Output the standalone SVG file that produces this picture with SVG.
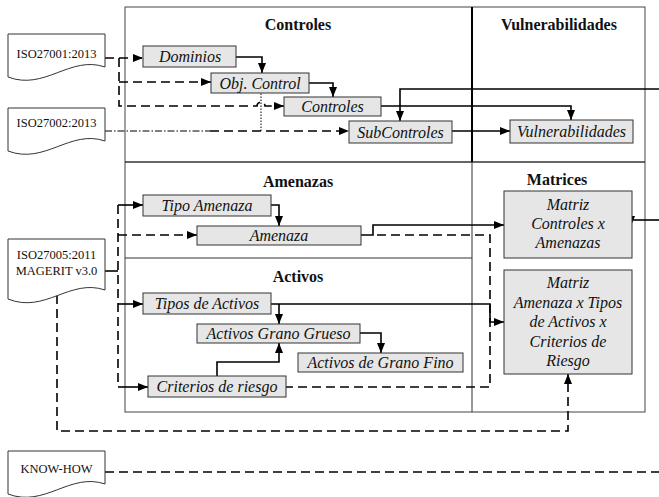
<svg xmlns="http://www.w3.org/2000/svg" width="659" height="497" viewBox="0 0 659 497" font-family="'Liberation Serif', 'DejaVu Serif', 'Times New Roman', serif">
<defs>
<style>
.box{fill:#e6e6e6;stroke:#333;stroke-width:1}
.doc{fill:#fff;stroke:#333;stroke-width:1}
.fr{fill:none;stroke:#444;stroke-width:1}
text{font-family:'Liberation Serif','DejaVu Serif',serif}
.t{fill:#111;text-anchor:middle}
.lbl{font-style:italic;font-size:16px}
.ttl{font-weight:bold;font-size:16px}
.dtx{font-size:12.5px}
.c{fill:none;stroke:#000;stroke-width:1.6}
.d{stroke-dasharray:9 5}
.dd{stroke-width:1.2;stroke-dasharray:7 2 1.5 2}
.dot{stroke-width:1;stroke-dasharray:1.5 1.5}
</style>
<marker id="ah" markerUnits="userSpaceOnUse" markerWidth="10" markerHeight="8" refX="10" refY="4" orient="auto">
<path d="M0,0 L10,4 L0,8 Z" fill="#000"/>
</marker>
</defs>
<rect width="659" height="497" fill="#fff"/>

<g id="frame">
<rect class="fr" x="125" y="7" width="520" height="405"/>
<line x1="125" y1="162" x2="645" y2="162" stroke="#333" stroke-width="1.5"/>
<line x1="472" y1="7" x2="472" y2="162" stroke="#000" stroke-width="2"/>
<line x1="472" y1="162" x2="472" y2="412" stroke="#333" stroke-width="1"/>
<line x1="125" y1="258" x2="472" y2="258" stroke="#333" stroke-width="1"/>
<text class="t ttl" x="298" y="30">Controles</text>
<text class="t ttl" x="559" y="30">Vulnerabilidades</text>
<text class="t ttl" x="298" y="187">Amenazas</text>
<text class="t ttl" x="298" y="282">Activos</text>
<text class="t ttl" x="557" y="185">Matrices</text>
</g>

<g id="connectors">
<path class="c d" d="M105,58 H143" marker-end="url(#ah)"/>
<path class="c d" d="M119,58 V106 H257 A4,4 0 0 1 265,106 H284" marker-end="url(#ah)"/>
<path class="c d" d="M119,82 H211" marker-end="url(#ah)"/>
<path class="c dd" d="M105,131 H210"/>
<path class="c d" d="M210,131 H349" marker-end="url(#ah)"/>
<path class="c dot" d="M261,131 V93"/>
<path class="c" d="M236,57 H262 V73" marker-end="url(#ah)"/>
<path class="c" d="M309,83 H333 V97" marker-end="url(#ah)"/>
<path class="c" d="M381,106 H571 V120" marker-end="url(#ah)"/>
<path class="c" d="M659,89 H400 V121" marker-end="url(#ah)"/>
<path class="c" d="M452,131 H510" marker-end="url(#ah)"/>
<path class="c" d="M105,271 H118"/>
<path class="c d" d="M118,205 V387"/>
<path class="c" d="M118,205 H143" marker-end="url(#ah)"/>
<path class="c d" d="M118,235 H197" marker-end="url(#ah)"/>
<path class="c" d="M118,304 H143" marker-end="url(#ah)"/>
<path class="c" d="M118,387 H148" marker-end="url(#ah)"/>
<path class="c" d="M271,205 H279 V226" marker-end="url(#ah)"/>
<path class="c" d="M361,235 H373 V225 H504" marker-end="url(#ah)"/>
<path class="c d" d="M377,235 H490 V387 H286"/>
<path class="c" d="M659,220 H631"/>
<path class="c" d="M631,218 V226" marker-end="url(#ah)"/>
<path class="c" d="M271,304 H490 V322 H504" marker-end="url(#ah)"/>
<path class="c" d="M279,304 V324" marker-end="url(#ah)"/>
<path class="c" d="M360,333 H381 V353" marker-end="url(#ah)"/>
<path class="c" d="M217,376 V362 H279 V343" marker-end="url(#ah)"/>
<path class="c d" d="M57,295 V431 H568 V374" marker-end="url(#ah)"/>
<path class="c d" d="M105,472 H659"/>
</g>

<g id="doc-iso27001">
<path class="doc" d="M8,34 H105 V67 C70,55 45,91 8,77 Z"/>
<text class="t dtx" x="56.5" y="57.5">ISO27001:2013</text>
</g>
<g id="doc-iso27002">
<path class="doc" d="M8,108 H105 V141 C70,129 45,165 8,151 Z"/>
<text class="t dtx" x="56.5" y="127">ISO27002:2013</text>
</g>
<g id="doc-iso27005">
<path class="doc" d="M8,239 H105 V290 C70,278 45,314 8,299 Z"/>
<text class="t dtx" x="56.5" y="259">ISO27005:2011</text>
<text class="t dtx" x="56.5" y="275">MAGERIT v3.0</text>
</g>
<g id="doc-knowhow">
<path class="doc" d="M8,451 H105 V484 C70,472 45,508 8,494 Z"/>
<text class="t dtx" x="56.5" y="473">KNOW-HOW</text>
</g>

<g id="n-dominios"><rect class="box" x="143" y="46" width="93" height="21"/><text class="t lbl" x="190" y="62">Dominios</text></g>
<g id="n-objcontrol"><rect class="box" x="211" y="73" width="98" height="20"/><text class="t lbl" x="260" y="88.5">Obj. Control</text></g>
<g id="n-controles"><rect class="box" x="284" y="97" width="97" height="19"/><text class="t lbl" x="332.5" y="112">Controles</text></g>
<g id="n-subcontroles"><rect class="box" x="349" y="121" width="103" height="22"/><text class="t lbl" x="400.5" y="137.5">SubControles</text></g>
<g id="n-vulnerabilidades"><rect class="box" x="510" y="120" width="123" height="23"/><text class="t lbl" x="571.5" y="137">Vulnerabilidades</text></g>
<g id="n-tipoamenaza"><rect class="box" x="143" y="195" width="128" height="21"/><text class="t lbl" x="207" y="211">Tipo Amenaza</text></g>
<g id="n-amenaza"><rect class="box" x="197" y="226" width="164" height="19"/><text class="t lbl" x="279" y="241">Amenaza</text></g>
<g id="n-tiposactivos"><rect class="box" x="143" y="293" width="128" height="21"/><text class="t lbl" x="207" y="309">Tipos de Activos</text></g>
<g id="n-granogrueso"><rect class="box" x="197" y="324" width="163" height="19"/><text class="t lbl" x="278.5" y="339">Activos Grano Grueso</text></g>
<g id="n-granofino"><rect class="box" x="298" y="353" width="165" height="19"/><text class="t lbl" x="380.5" y="368">Activos de Grano Fino</text></g>
<g id="n-criterios"><rect class="box" x="148" y="376" width="138" height="21"/><text class="t lbl" x="217" y="392">Criterios de riesgo</text></g>
<g id="n-matriz1"><rect class="box" x="504" y="191" width="128" height="67"/>
<text class="t lbl" x="568" y="210">Matriz</text>
<text class="t lbl" x="568" y="229">Controles x</text>
<text class="t lbl" x="568" y="248">Amenazas</text></g>
<g id="n-matriz2"><rect class="box" x="504" y="270" width="128" height="104"/>
<text class="t lbl" x="568" y="288">Matriz</text>
<text class="t lbl" x="568" y="307.5">Amenaza x Tipos</text>
<text class="t lbl" x="568" y="327">de Activos x</text>
<text class="t lbl" x="568" y="346.5">Criterios de</text>
<text class="t lbl" x="568" y="366">Riesgo</text></g>
</svg>
